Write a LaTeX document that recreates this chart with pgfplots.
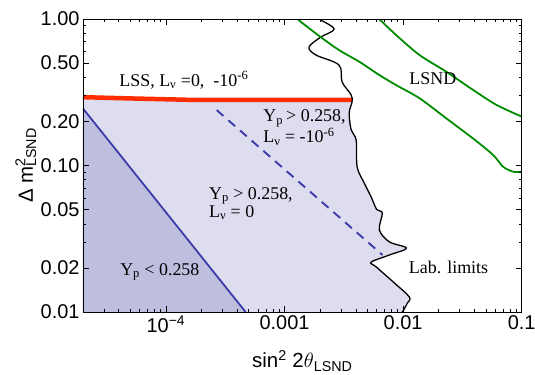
\documentclass[border=0pt]{standalone}
\usepackage{fontspec}
\setmainfont{Liberation Serif}
\setsansfont{Liberation Sans}
\usepackage{pgfplots}
\pgfplotsset{compat=1.18}
\definecolor{lightfill}{RGB}{221,221,239}
\definecolor{darkfill}{RGB}{190,190,223}
\definecolor{blueline}{RGB}{60,60,170}
\definecolor{redline}{RGB}{255,45,0}
\definecolor{greenline}{RGB}{0,140,0}
\newcommand{\ann}{\fontsize{18}{18.2}\selectfont}
\begin{document}
\begin{tikzpicture}
\begin{axis}[
  scale only axis, width=438.7bp, height=293bp,
  xmode=log, ymode=log,
  xmin=2e-5, xmax=0.1, ymin=0.01, ymax=1,
  xtick={1e-4,1e-3,1e-2,1e-1},
  xticklabels={10\textsuperscript{−4},0.001,0.01,0.1},
  minor xtick={3e-5,4e-5,5e-5,6e-5,7e-5,8e-5,9e-5,2e-4,3e-4,4e-4,5e-4,6e-4,7e-4,8e-4,9e-4,2e-3,3e-3,4e-3,5e-3,6e-3,7e-3,8e-3,9e-3,2e-2,3e-2,4e-2,5e-2,6e-2,7e-2,8e-2,9e-2},
  ytick={0.01,0.02,0.05,0.1,0.2,0.5,1},
  yticklabels={0.01,0.02,0.05,0.10,0.20,0.50,1.00},
  minor ytick={0.03,0.04,0.06,0.07,0.08,0.09,0.3,0.4,0.6,0.7,0.8,0.9},
  tick align=inside,
  major tick length=6bp, minor tick length=3bp,
  tick style={black, line width=0.6bp},
  axis line style={line width=0.8bp},
  ticklabel style={font=\sffamily\fontsize{20}{22}\selectfont},
  every axis x label/.style={at={(axis description cs:0.5,-0.191)}, anchor=base},
  every axis y label/.style={at={(axis description cs:-0.114,0.5)}, rotate=90, anchor=base},
  xlabel={\sffamily\fontsize{20.5}{22}\selectfont sin\textsuperscript{2} 2$\theta$\textsubscript{LSND}},
  ylabel={\sffamily\fontsize{20.5}{22}\selectfont Δ m\rlap{\textsuperscript{2}}\textsubscript{LSND}},
  axis on top,
]
% light region
\addplot[fill=lightfill, draw=none] coordinates {
  (2e-5,0.01) (2e-5,0.292) (5e-5,0.287) (1.5e-4,0.281) (1e-3,0.28) (3.71e-3,0.28)
  (3.71e-3,0.271) (3.51e-3,0.228) (3.65e-3,0.175) (4.02e-3,0.149) (4.10e-3,0.0977)
  (4.70e-3,0.076) (5.38e-3,0.061) (6.0e-3,0.05) (6.68e-3,0.0474) (6.31e-3,0.0363)
  (7.66e-3,0.0301) (1.066e-2,0.0273) (7.66e-3,0.0245) (5.38e-3,0.0219) (5.94e-3,0.0203)
  (8.43e-3,0.0158) (1.13e-2,0.01265) (1.086e-2,0.0115) (9.86e-3,0.01)
} -- cycle;
% dark region
\addplot[fill=darkfill, draw=none] coordinates {(2e-5,0.01) (2e-5,0.245) (4.7e-4,0.01)} -- cycle;
\addplot[blueline, line width=1.8bp] coordinates {(2e-5,0.245) (4.7e-4,0.01)};
\addplot[blueline, line width=1.9bp, dash pattern=on 9bp off 6.5bp] coordinates {(2.68e-4,0.239) (6.71e-3,0.0245)};
% red line
\addplot[redline, line width=4.5bp] coordinates {(1.9e-5,0.293) (5e-5,0.287) (1.5e-4,0.281) (1e-3,0.28) (3.71e-3,0.28)};
% lab limits
\addplot[black, line width=1.3bp, smooth, tension=0.55] coordinates {
  (1.9e-3,1.03) (1.954e-3,1.0) (2.62e-3,0.855) (2.03e-3,0.754) (1.61e-3,0.644) (1.84e-3,0.568)
  (2.88e-3,0.485) (3.06e-3,0.372) (3.65e-3,0.303) (3.71e-3,0.271) (3.51e-3,0.228)
  (3.65e-3,0.175) (4.02e-3,0.149) (4.10e-3,0.0977) (4.70e-3,0.076) (5.38e-3,0.061)
  (6.0e-3,0.05) (6.68e-3,0.0474) (6.31e-3,0.0363) (7.66e-3,0.0301) (1.066e-2,0.0273)
  (7.66e-3,0.0245) (5.38e-3,0.0219) (5.94e-3,0.0203) (8.43e-3,0.0158) (1.13e-2,0.01265)
  (1.086e-2,0.0115) (9.86e-3,0.01) (9.5e-3,0.0097)
};
% LSND
\addplot[greenline, line width=1.8bp, smooth] coordinates {
  (6.0e-3,1.05) (6.29e-3,1.0) (8.73e-3,0.778) (0.01374,0.568) (0.0231,0.437)
  (0.0389,0.328) (0.0614,0.259) (0.1,0.2155) (0.105,0.21)
};
\addplot[greenline, line width=1.8bp, smooth] coordinates {
  (1.2e-3,1.05) (1.28e-3,1.0) (2.0e-3,0.757) (2.88e-3,0.614) (4.27e-3,0.511)
  (6.29e-3,0.415) (8.73e-3,0.354) (0.01374,0.288) (0.0231,0.21) (0.0389,0.153)
  (0.0574,0.118) (0.0698,0.098) (0.0849,0.0907) (0.1,0.0907) (0.105,0.0907)
};
\node[anchor=base west, font=\ann] at (axis description cs:0.075,0.771) {LSS, L\textsubscript{ν} =0,~ -10\textsuperscript{-6}};
\node[anchor=base west, font=\ann] at (axis description cs:0.736,0.775) {LSND};
\node[anchor=north west, font=\ann, align=left, inner xsep=0pt, inner ysep=0pt] at (axis description cs:0.411,0.690) {Y\textsubscript{p}\,> 0.258,\\L\textsubscript{ν} = -10\textsuperscript{-6}};
\node[anchor=north west, font=\ann, align=left, inner xsep=0pt, inner ysep=0pt] at (axis description cs:0.287,0.427) {Y\textsubscript{p} > 0.258,\\L\textsubscript{ν} = 0};
\node[anchor=base west, font=\ann] at (axis description cs:0.077,0.126) {Y\textsubscript{p} < 0.258};
\node[anchor=base west, font=\ann] at (axis description cs:0.735,0.130) {Lab. limits};
\end{axis}
\pgfresetboundingbox
\path (-83bp,-63bp) rectangle (452bp,312bp);
\end{tikzpicture}
\end{document}
